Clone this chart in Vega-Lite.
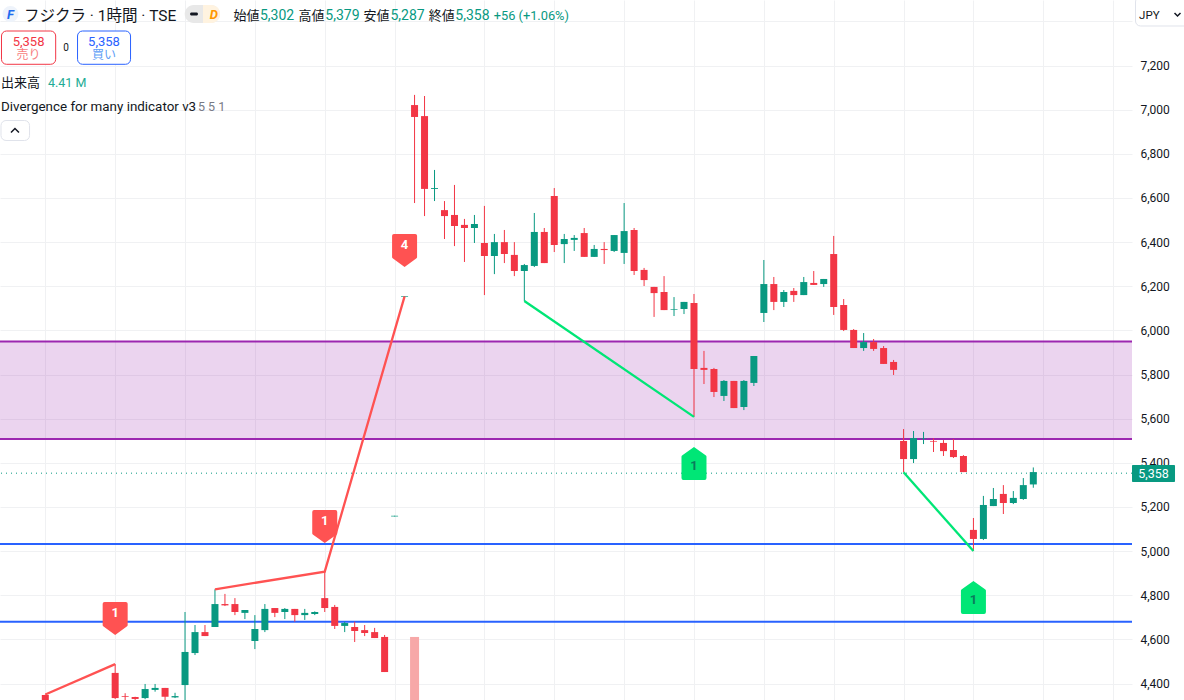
{
  "$schema": "https://vega.github.io/schema/vega-lite/v6.json",
  "width": 1132,
  "height": 700,
  "padding": {"left": 0, "top": 0, "right": 52, "bottom": 0},
  "autosize": {"type": "none"},
  "background": "#ffffff",
  "config": {"view": {"stroke": null}},
  "resolve": {"scale": {"color": "independent", "stroke": "independent", "size": "independent"}},
  "datasets": {
    "candles": [
      {"bar":0,"open":4348,"high":4350,"low":4310,"close":4320},
      {"bar":7,"open":4448,"high":4488,"low":4330,"close":4334},
      {"bar":8,"open":4342,"high":4356,"low":4325,"close":4339},
      {"bar":9,"open":4339,"high":4340,"low":4325,"close":4330},
      {"bar":10,"open":4334,"high":4398,"low":4329,"close":4375},
      {"bar":11,"open":4371,"high":4398,"low":4363,"close":4380},
      {"bar":12,"open":4380,"high":4380,"low":4325,"close":4340},
      {"bar":13,"open":4337,"high":4358,"low":4334,"close":4343},
      {"bar":14,"open":4393,"high":4724,"low":4303,"close":4543},
      {"bar":15,"open":4538,"high":4665,"low":4529,"close":4633},
      {"bar":16,"open":4633,"high":4665,"low":4615,"close":4615},
      {"bar":17,"open":4656,"high":4827,"low":4656,"close":4760},
      {"bar":18,"open":4760,"high":4806,"low":4751,"close":4754},
      {"bar":19,"open":4760,"high":4787,"low":4710,"close":4724},
      {"bar":20,"open":4720,"high":4733,"low":4692,"close":4733},
      {"bar":21,"open":4593,"high":4710,"low":4556,"close":4647},
      {"bar":22,"open":4642,"high":4760,"low":4633,"close":4738},
      {"bar":23,"open":4742,"high":4742,"low":4701,"close":4720},
      {"bar":24,"open":4724,"high":4742,"low":4692,"close":4738},
      {"bar":25,"open":4738,"high":4738,"low":4680,"close":4710},
      {"bar":26,"open":4710,"high":4738,"low":4688,"close":4720},
      {"bar":27,"open":4715,"high":4727,"low":4710,"close":4724},
      {"bar":28,"open":4787,"high":4907,"low":4724,"close":4742},
      {"bar":29,"open":4747,"high":4756,"low":4647,"close":4661},
      {"bar":30,"open":4661,"high":4680,"low":4633,"close":4674},
      {"bar":31,"open":4656,"high":4680,"low":4588,"close":4638},
      {"bar":32,"open":4642,"high":4665,"low":4615,"close":4629},
      {"bar":33,"open":4633,"high":4652,"low":4606,"close":4606},
      {"bar":34,"open":4611,"high":4620,"low":4452,"close":4452},
      {"bar":35,"open":5157,"high":5160,"low":5157,"close":5160},
      {"bar":36,"open":6152,"high":6155,"low":6152,"close":6155},
      {"bar":37,"open":7021,"high":7067,"low":6577,"close":6967},
      {"bar":38,"open":6971,"high":7062,"low":6518,"close":6641},
      {"bar":39,"open":6641,"high":6727,"low":6586,"close":6645},
      {"bar":40,"open":6545,"high":6586,"low":6414,"close":6518},
      {"bar":41,"open":6523,"high":6659,"low":6382,"close":6473},
      {"bar":42,"open":6478,"high":6505,"low":6310,"close":6464},
      {"bar":43,"open":6464,"high":6523,"low":6396,"close":6482},
      {"bar":44,"open":6396,"high":6564,"low":6160,"close":6337},
      {"bar":45,"open":6337,"high":6437,"low":6255,"close":6400},
      {"bar":46,"open":6400,"high":6455,"low":6305,"close":6346},
      {"bar":47,"open":6342,"high":6400,"low":6246,"close":6269},
      {"bar":48,"open":6269,"high":6301,"low":6133,"close":6296},
      {"bar":49,"open":6292,"high":6532,"low":6287,"close":6446},
      {"bar":50,"open":6446,"high":6464,"low":6305,"close":6305},
      {"bar":51,"open":6609,"high":6645,"low":6355,"close":6387},
      {"bar":52,"open":6391,"high":6437,"low":6305,"close":6414},
      {"bar":53,"open":6410,"high":6432,"low":6360,"close":6419},
      {"bar":54,"open":6441,"high":6464,"low":6333,"close":6333},
      {"bar":55,"open":6333,"high":6387,"low":6333,"close":6369},
      {"bar":56,"open":6369,"high":6400,"low":6301,"close":6364},
      {"bar":57,"open":6360,"high":6432,"low":6355,"close":6432},
      {"bar":58,"open":6351,"high":6577,"low":6301,"close":6450},
      {"bar":59,"open":6455,"high":6464,"low":6251,"close":6269},
      {"bar":60,"open":6274,"high":6283,"low":6201,"close":6228},
      {"bar":61,"open":6197,"high":6197,"low":6061,"close":6169},
      {"bar":62,"open":6174,"high":6246,"low":6092,"close":6092},
      {"bar":63,"open":6094,"high":6151,"low":6065,"close":6097},
      {"bar":64,"open":6097,"high":6129,"low":6074,"close":6129},
      {"bar":65,"open":6124,"high":6165,"low":5608,"close":5825},
      {"bar":66,"open":5830,"high":5907,"low":5757,"close":5821},
      {"bar":67,"open":5825,"high":5830,"low":5698,"close":5721},
      {"bar":68,"open":5703,"high":5775,"low":5680,"close":5771},
      {"bar":69,"open":5771,"high":5771,"low":5648,"close":5648},
      {"bar":70,"open":5653,"high":5775,"low":5639,"close":5771},
      {"bar":71,"open":5762,"high":5884,"low":5748,"close":5884},
      {"bar":72,"open":6079,"high":6319,"low":6038,"close":6210},
      {"bar":73,"open":6210,"high":6242,"low":6092,"close":6129},
      {"bar":74,"open":6129,"high":6183,"low":6106,"close":6174},
      {"bar":75,"open":6179,"high":6192,"low":6129,"close":6160},
      {"bar":76,"open":6160,"high":6242,"low":6160,"close":6219},
      {"bar":77,"open":6215,"high":6269,"low":6206,"close":6206},
      {"bar":78,"open":6210,"high":6233,"low":6197,"close":6233},
      {"bar":79,"open":6346,"high":6428,"low":6070,"close":6106},
      {"bar":80,"open":6115,"high":6142,"low":5997,"close":6002},
      {"bar":81,"open":6002,"high":6006,"low":5920,"close":5920},
      {"bar":82,"open":5920,"high":5988,"low":5907,"close":5947},
      {"bar":83,"open":5947,"high":5961,"low":5907,"close":5916},
      {"bar":84,"open":5920,"high":5929,"low":5848,"close":5848},
      {"bar":85,"open":5857,"high":5866,"low":5798,"close":5821},
      {"bar":86,"open":5499,"high":5553,"low":5357,"close":5417},
      {"bar":87,"open":5417,"high":5544,"low":5399,"close":5512},
      {"bar":88,"open":5510,"high":5540,"low":5485,"close":5512},
      {"bar":89,"open":5499,"high":5511,"low":5449,"close":5496},
      {"bar":90,"open":5490,"high":5503,"low":5431,"close":5453},
      {"bar":91,"open":5458,"high":5508,"low":5422,"close":5426},
      {"bar":92,"open":5431,"high":5435,"low":5358,"close":5358},
      {"bar":93,"open":5096,"high":5150,"low":5000,"close":5055},
      {"bar":94,"open":5055,"high":5250,"low":5050,"close":5209},
      {"bar":95,"open":5204,"high":5286,"low":5204,"close":5236},
      {"bar":96,"open":5259,"high":5299,"low":5168,"close":5218},
      {"bar":97,"open":5218,"high":5272,"low":5213,"close":5241},
      {"bar":98,"open":5236,"high":5331,"low":5232,"close":5299},
      {"bar":99,"open":5302,"high":5379,"low":5287,"close":5358}
    ],
    "divergence": [
      {"seg":"a","kind":"bear","bar":0,"price":4350},
      {"seg":"a","kind":"bear","bar":7,"price":4488},
      {"seg":"b","kind":"bear","bar":17,"price":4827},
      {"seg":"b","kind":"bear","bar":28,"price":4907},
      {"seg":"b","kind":"bear","bar":36,"price":6154},
      {"seg":"c","kind":"bull","bar":48,"price":6133},
      {"seg":"c","kind":"bull","bar":65,"price":5608},
      {"seg":"d","kind":"bull","bar":86,"price":5357},
      {"seg":"d","kind":"bull","bar":93,"price":5000}
    ],
    "signals": [
      {"kind":"bear","bar":7,"price":4695,"textPrice":4721,"count":"1"},
      {"kind":"bear","bar":28,"price":5111,"textPrice":5136,"count":"1"},
      {"kind":"bear","bar":36,"price":6362,"textPrice":6387,"count":"4"},
      {"kind":"bull","bar":65,"price":5397,"textPrice":5386,"count":"1"},
      {"kind":"bull","bar":93,"price":4790,"textPrice":4778,"count":"1"}
    ],
    "boxes": [
      {"role":"sell","x1":-4.39,"x2":1.04,"y1":7356.5,"y2":7205.7},
      {"role":"buy","x1":3.23,"x2":8.54,"y1":7356.5,"y2":7205.7},
      {"role":"button","x1":-4.44,"x2":-1.58,"y1":6951,"y2":6860.4},
      {"role":"button","x1":109.24,"x2":115.2,"y1":7510.6,"y2":7379.2}
    ],
    "labels": [
      {"text":"フジクラ · 1時間 · TSE","bar":-2.14,"price":7426,"role":"title"},
      {"text":"始値","bar":18.85,"price":7426,"role":"label"},
      {"text":"5,302","bar":21.51,"price":7426,"role":"value"},
      {"text":"高値","bar":25.37,"price":7426,"role":"label"},
      {"text":"5,379","bar":28.06,"price":7426,"role":"value"},
      {"text":"安値","bar":31.89,"price":7426,"role":"label"},
      {"text":"5,287","bar":34.58,"price":7426,"role":"value"},
      {"text":"終値","bar":38.41,"price":7426,"role":"label"},
      {"text":"5,358","bar":41.09,"price":7426,"role":"value"},
      {"text":"+56 (+1.06%)","bar":44.93,"price":7426,"role":"delta"},
      {"text":"出来高","bar":-4.44,"price":7120,"role":"label"},
      {"text":"4.41 M","bar":0.27,"price":7120,"role":"volume"},
      {"text":"Divergence for many indicator v3","bar":-4.44,"price":7013,"role":"indicator"},
      {"text":"5 5 1","bar":15.3,"price":7013,"role":"muted"},
      {"text":"JPY","bar":109.6,"price":7426,"role":"small"}
    ],
    "centered": [
      {"text":"5,358","bar":-1.68,"price":7306,"role":"sell"},
      {"text":"売り","bar":-1.68,"price":7247,"role":"sellSoft"},
      {"text":"0","bar":2.07,"price":7279.5,"role":"count"},
      {"text":"5,358","bar":5.88,"price":7306,"role":"buy"},
      {"text":"買い","bar":5.88,"price":7247,"role":"buySoft"},
      {"text":"5,358","bar":111.04,"price":5349,"role":"white"}
    ],
    "logos": [
      {"text":"D","bar":16.9,"price":7428,"role":"orange"},
      {"text":"F","bar":-3.49,"price":7428,"role":"blue"}
    ],
    "chevrons": [
      {"id":"up","bar":-3.44,"price":6896.7},
      {"id":"up","bar":-3.04,"price":6914.8},
      {"id":"up","bar":-2.64,"price":6896.7},
      {"id":"jpy","bar":113.15,"price":7438.1},
      {"id":"jpy","bar":113.45,"price":7424.5},
      {"id":"jpy","bar":113.75,"price":7438.1}
    ]
  },
  "data": {"name": "candles"},
  "layer": [
    {
      "mark": {"type": "rule", "opacity": 0},
      "encoding": {
        "x": {
          "field": "bar", "type": "quantitative", "title": null,
          "scale": {"domain": [-4.54, 108.89], "nice": false, "zero": false, "padding": 0},
          "axis": {
            "values": [0,7,14,21,28,35,44,51,58,65,72,79,86,93,100,107],
            "labels": false, "ticks": false, "domain": false, "title": null,
            "grid": true, "gridColor": "#F0F1F3", "gridWidth": 1
          }
        },
        "y": {
          "field": "close", "type": "quantitative", "title": null,
          "scale": {"domain": [4325.3, 7497], "nice": false, "zero": false},
          "axis": {
            "orient": "right",
            "values": [4400,4600,4800,5000,5200,5400,5600,5800,6000,6200,6400,6600,6800,7000,7200,7400],
            "labelExpr": "datum.value == 7400 ? '' : format(datum.value, ',')",
            "labelFont": "Roboto", "labelFontSize": 12, "labelColor": "#131722",
            "labelPadding": 8, "labelOverlap": false, "labelFlush": false,
            "ticks": false, "domain": false, "title": null,
            "grid": true, "gridColor": "#F0F1F3", "gridWidth": 1
          }
        }
      }
    },
    {
      "data": {"values": [{"top": 5950, "bottom": 5508}]},
      "mark": {"type": "rect", "color": "#9C27B0", "opacity": 0.2},
      "encoding": {
        "y": {"field": "top", "type": "quantitative", "title": null, "scale": {"domain": [4325.3, 7497], "nice": false, "zero": false}},
        "y2": {"field": "bottom"}
      }
    },
    {
      "data": {"values": [{"level": 5950}, {"level": 5508}]},
      "mark": {"type": "rule", "color": "#9C27B0", "strokeWidth": 2},
      "encoding": {
        "y": {"field": "level", "type": "quantitative", "title": null, "scale": {"domain": [4325.3, 7497], "nice": false, "zero": false}}
      }
    },
    {
      "data": {"values": [{"level": 5032}, {"level": 4680}]},
      "mark": {"type": "rule", "color": "#2962FF", "strokeWidth": 2},
      "encoding": {
        "y": {"field": "level", "type": "quantitative", "title": null, "scale": {"domain": [4325.3, 7497], "nice": false, "zero": false}}
      }
    },
    {
      "data": {"values": [{"level": 5353}]},
      "mark": {"type": "rule", "color": "#089981", "strokeWidth": 1, "strokeDash": [1, 4]},
      "encoding": {
        "y": {"field": "level", "type": "quantitative", "title": null, "scale": {"domain": [4325.3, 7497], "nice": false, "zero": false}}
      }
    },
    {
      "data": {"values": [{"bar": 37, "volume": 4611, "base": 4325.3}]},
      "mark": {"type": "bar", "size": 9, "color": "#F7A8A8"},
      "encoding": {
        "x": {"field": "bar", "type": "quantitative", "title": null, "scale": {"domain": [-4.54, 108.89], "nice": false, "zero": false, "padding": 0}},
        "y": {"field": "volume", "type": "quantitative", "title": null, "scale": {"domain": [4325.3, 7497], "nice": false, "zero": false}},
        "y2": {"field": "base"}
      }
    },
    {
      "mark": {"type": "rule", "strokeWidth": 1},
      "encoding": {
        "x": {"field": "bar", "type": "quantitative", "title": null, "scale": {"domain": [-4.54, 108.89], "nice": false, "zero": false, "padding": 0}},
        "y": {"field": "low", "type": "quantitative", "title": null, "scale": {"domain": [4325.3, 7497], "nice": false, "zero": false}},
        "y2": {"field": "high"},
        "color": {"condition": {"test": "datum.close >= datum.open", "value": "#089981"}, "value": "#F23645"}
      }
    },
    {
      "mark": {"type": "bar", "size": 7},
      "encoding": {
        "x": {"field": "bar", "type": "quantitative", "title": null, "scale": {"domain": [-4.54, 108.89], "nice": false, "zero": false, "padding": 0}},
        "y": {"field": "open", "type": "quantitative", "title": null, "scale": {"domain": [4325.3, 7497], "nice": false, "zero": false}},
        "y2": {"field": "close"},
        "color": {"condition": {"test": "datum.close >= datum.open", "value": "#089981"}, "value": "#F23645"}
      }
    },
    {
      "data": {"name": "signals"},
      "transform": [{"filter": "datum.kind == 'bear'"}],
      "mark": {
        "type": "point", "filled": true, "opacity": 1, "color": "#FF5252", "size": 625,
        "shape": "M-0.85 -1.32 L0.85 -1.32 Q1 -1.32 1 -1.17 L1 0.55 Q1 0.62 0.9 0.67 L0 1.32 L-0.9 0.67 Q-1 0.62 -1 0.55 L-1 -1.17 Q-1 -1.32 -0.85 -1.32 Z"
      },
      "encoding": {
        "x": {"field": "bar", "type": "quantitative", "title": null, "scale": {"domain": [-4.54, 108.89], "nice": false, "zero": false, "padding": 0}},
        "y": {"field": "price", "type": "quantitative", "title": null, "scale": {"domain": [4325.3, 7497], "nice": false, "zero": false}}
      }
    },
    {
      "data": {"name": "signals"},
      "transform": [{"filter": "datum.kind == 'bull'"}],
      "mark": {
        "type": "point", "filled": true, "opacity": 1, "color": "#00E676", "size": 625,
        "shape": "M-0.85 1.32 L0.85 1.32 Q1 1.32 1 1.17 L1 -0.55 Q1 -0.62 0.9 -0.67 L0 -1.32 L-0.9 -0.67 Q-1 -0.62 -1 -0.55 L-1 1.17 Q-1 1.32 -0.85 1.32 Z"
      },
      "encoding": {
        "x": {"field": "bar", "type": "quantitative", "title": null, "scale": {"domain": [-4.54, 108.89], "nice": false, "zero": false, "padding": 0}},
        "y": {"field": "price", "type": "quantitative", "title": null, "scale": {"domain": [4325.3, 7497], "nice": false, "zero": false}}
      }
    },
    {
      "data": {"name": "signals"},
      "mark": {"type": "text", "font": "Roboto", "fontSize": 13, "fontWeight": "bold", "baseline": "middle"},
      "encoding": {
        "x": {"field": "bar", "type": "quantitative", "title": null, "scale": {"domain": [-4.54, 108.89], "nice": false, "zero": false, "padding": 0}},
        "y": {"field": "textPrice", "type": "quantitative", "title": null, "scale": {"domain": [4325.3, 7497], "nice": false, "zero": false}},
        "text": {"field": "count"},
        "color": {"condition": {"test": "datum.kind == 'bear'", "value": "#ffffff"}, "value": "#0B7A5C"}
      }
    },
    {
      "data": {"name": "divergence"},
      "mark": {"type": "line", "strokeWidth": 2.3},
      "encoding": {
        "x": {"field": "bar", "type": "quantitative", "title": null, "scale": {"domain": [-4.54, 108.89], "nice": false, "zero": false, "padding": 0}},
        "y": {"field": "price", "type": "quantitative", "title": null, "scale": {"domain": [4325.3, 7497], "nice": false, "zero": false}},
        "detail": {"field": "seg"},
        "color": {"field": "kind", "type": "nominal", "legend": null, "scale": {"domain": ["bear", "bull"], "range": ["#FF5252", "#00E676"]}}
      }
    },
    {
      "data": {"values": [{"bar": 108.89, "bar2": 113.2, "top": 5390.1, "bottom": 5313}]},
      "mark": {"type": "rect", "color": "#089981", "cornerRadius": 1},
      "encoding": {
        "x": {"field": "bar", "type": "quantitative", "title": null, "scale": {"domain": [-4.54, 108.89], "nice": false, "zero": false, "padding": 0}},
        "x2": {"field": "bar2"},
        "y": {"field": "top", "type": "quantitative", "title": null, "scale": {"domain": [4325.3, 7497], "nice": false, "zero": false}},
        "y2": {"field": "bottom"}
      }
    },
    {
      "data": {"name": "boxes"},
      "mark": {"type": "rect", "fill": "#ffffff", "strokeWidth": 1, "cornerRadius": 5},
      "encoding": {
        "x": {"field": "x1", "type": "quantitative", "title": null, "scale": {"domain": [-4.54, 108.89], "nice": false, "zero": false, "padding": 0}},
        "x2": {"field": "x2"},
        "y": {"field": "y1", "type": "quantitative", "title": null, "scale": {"domain": [4325.3, 7497], "nice": false, "zero": false}},
        "y2": {"field": "y2"},
        "stroke": {"field": "role", "type": "nominal", "legend": null, "scale": {"domain": ["sell", "buy", "button"], "range": ["#F23645", "#2962FF", "#E0E3EB"]}}
      }
    },
    {
      "data": {"values": [{"x1": 13.97, "x2": 17.5, "y1": 7474.3, "y2": 7392.8}]},
      "mark": {"type": "rect", "color": "#E8E8E8", "cornerRadius": 9},
      "encoding": {
        "x": {"field": "x1", "type": "quantitative", "title": null, "scale": {"domain": [-4.54, 108.89], "nice": false, "zero": false, "padding": 0}},
        "x2": {"field": "x2"},
        "y": {"field": "y1", "type": "quantitative", "title": null, "scale": {"domain": [4325.3, 7497], "nice": false, "zero": false}},
        "y2": {"field": "y2"}
      }
    },
    {
      "data": {"values": [{"x1": 15.8, "x2": 17.5, "y1": 7474.3, "y2": 7392.8}]},
      "mark": {"type": "rect", "color": "#FFF3E0", "cornerRadiusTopRight": 9, "cornerRadiusBottomRight": 9},
      "encoding": {
        "x": {"field": "x1", "type": "quantitative", "title": null, "scale": {"domain": [-4.54, 108.89], "nice": false, "zero": false, "padding": 0}},
        "x2": {"field": "x2"},
        "y": {"field": "y1", "type": "quantitative", "title": null, "scale": {"domain": [4325.3, 7497], "nice": false, "zero": false}},
        "y2": {"field": "y2"}
      }
    },
    {
      "data": {"values": [{"x1": 14.5, "x2": 15.3, "y1": 7440.4, "y2": 7426.8}]},
      "mark": {"type": "rect", "color": "#131722", "cornerRadius": 1.5},
      "encoding": {
        "x": {"field": "x1", "type": "quantitative", "title": null, "scale": {"domain": [-4.54, 108.89], "nice": false, "zero": false, "padding": 0}},
        "x2": {"field": "x2"},
        "y": {"field": "y1", "type": "quantitative", "title": null, "scale": {"domain": [4325.3, 7497], "nice": false, "zero": false}},
        "y2": {"field": "y2"}
      }
    },
    {
      "data": {"values": [{"bar": -3.49, "price": 7433.6}]},
      "mark": {"type": "point", "shape": "circle", "filled": true, "opacity": 1, "color": "#EEF3FB", "size": 254},
      "encoding": {
        "x": {"field": "bar", "type": "quantitative", "title": null, "scale": {"domain": [-4.54, 108.89], "nice": false, "zero": false, "padding": 0}},
        "y": {"field": "price", "type": "quantitative", "title": null, "scale": {"domain": [4325.3, 7497], "nice": false, "zero": false}}
      }
    },
    {
      "data": {"name": "chevrons"},
      "mark": {"type": "line", "color": "#131722", "strokeWidth": 1.5},
      "encoding": {
        "x": {"field": "bar", "type": "quantitative", "title": null, "scale": {"domain": [-4.54, 108.89], "nice": false, "zero": false, "padding": 0}},
        "y": {"field": "price", "type": "quantitative", "title": null, "scale": {"domain": [4325.3, 7497], "nice": false, "zero": false}},
        "detail": {"field": "id"}
      }
    },
    {
      "data": {"name": "labels"},
      "mark": {"type": "text", "font": "Roboto, 'Noto Sans CJK JP'", "align": "left", "baseline": "middle"},
      "encoding": {
        "x": {"field": "bar", "type": "quantitative", "title": null, "scale": {"domain": [-4.54, 108.89], "nice": false, "zero": false, "padding": 0}},
        "y": {"field": "price", "type": "quantitative", "title": null, "scale": {"domain": [4325.3, 7497], "nice": false, "zero": false}},
        "text": {"field": "text"},
        "size": {"field": "role", "type": "nominal", "legend": null, "scale": {"type": "ordinal", "domain": ["title", "label", "value", "delta", "volume", "indicator", "muted", "small"], "range": [15.5, 13, 14, 12.8, 12.5, 13.4, 12.5, 11.5]}},
        "color": {"field": "role", "type": "nominal", "legend": null, "scale": {"domain": ["title", "label", "value", "delta", "volume", "indicator", "muted", "small"], "range": ["#131722", "#131722", "#089981", "#089981", "#22AB94", "#131722", "#787B86", "#131722"]}}
      }
    },
    {
      "data": {"name": "centered"},
      "mark": {"type": "text", "font": "Roboto, 'Noto Sans CJK JP'", "align": "center", "baseline": "middle"},
      "encoding": {
        "x": {"field": "bar", "type": "quantitative", "title": null, "scale": {"domain": [-4.54, 108.89], "nice": false, "zero": false, "padding": 0}},
        "y": {"field": "price", "type": "quantitative", "title": null, "scale": {"domain": [4325.3, 7497], "nice": false, "zero": false}},
        "text": {"field": "text"},
        "size": {"field": "role", "type": "nominal", "legend": null, "scale": {"type": "ordinal", "domain": ["sell", "sellSoft", "buy", "buySoft", "count", "white"], "range": [13, 12, 13, 12, 10, 12.5]}},
        "color": {"field": "role", "type": "nominal", "legend": null, "scale": {"domain": ["sell", "sellSoft", "buy", "buySoft", "count", "white"], "range": ["#F23645", "#F77C80", "#2962FF", "#5B9CF6", "#131722", "#ffffff"]}}
      }
    },
    {
      "data": {"name": "logos"},
      "mark": {"type": "text", "font": "Roboto", "fontSize": 13, "fontWeight": "bold", "fontStyle": "italic", "align": "center", "baseline": "middle"},
      "encoding": {
        "x": {"field": "bar", "type": "quantitative", "title": null, "scale": {"domain": [-4.54, 108.89], "nice": false, "zero": false, "padding": 0}},
        "y": {"field": "price", "type": "quantitative", "title": null, "scale": {"domain": [4325.3, 7497], "nice": false, "zero": false}},
        "text": {"field": "text"},
        "color": {"field": "role", "type": "nominal", "legend": null, "scale": {"domain": ["orange", "blue"], "range": ["#FF9800", "#1E6BF0"]}}
      }
    }
  ]
}
